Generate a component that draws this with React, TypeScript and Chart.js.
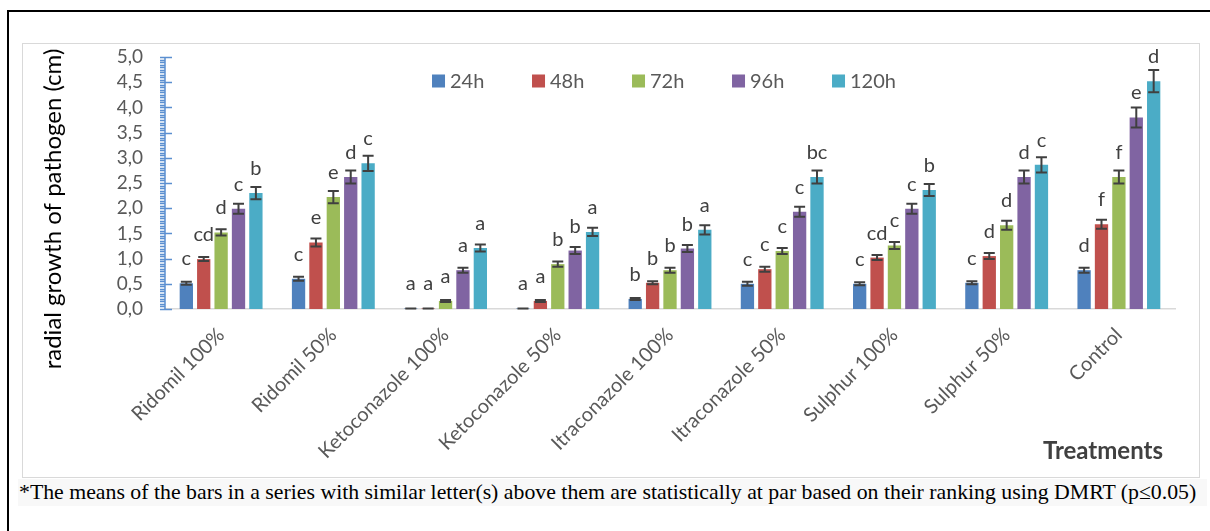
import React, { useEffect, useRef } from "react";
import { Chart, registerables } from "chart.js";

Chart.register(...registerables);

const categories = [
  "Ridomil 100%",
  "Ridomil 50%",
  "Ketoconazole 100%",
  "Ketoconazole 50%",
  "Itraconazole 100%",
  "Itraconazole 50%",
  "Sulphur 100%",
  "Sulphur 50%",
  "Control",
];

const seriesNames = ["24h", "48h", "72h", "96h", "120h"];
const seriesColors = ["#4F81BD", "#C0504D", "#9BBB59", "#8064A2", "#4BACC6"];

const v24 = [0.51, 0.6, 0.01, 0.01, 0.2, 0.5, 0.5, 0.52, 0.77];
const v48 = [0.99, 1.32, 0.01, 0.16, 0.52, 0.79, 1.02, 1.05, 1.68];
const v72 = [1.52, 2.22, 0.16, 0.89, 0.77, 1.15, 1.26, 1.66, 2.62];
const v96 = [1.99, 2.62, 0.77, 1.16, 1.2, 1.93, 1.99, 2.62, 3.8];
const v120 = [2.3, 2.89, 1.21, 1.53, 1.57, 2.62, 2.36, 2.86, 4.52];

const e24 = [0.03, 0.04, 0.0, 0.0, 0.02, 0.04, 0.03, 0.03, 0.05];
const e48 = [0.04, 0.08, 0.0, 0.02, 0.03, 0.05, 0.05, 0.06, 0.09];
const e72 = [0.06, 0.12, 0.02, 0.05, 0.05, 0.06, 0.07, 0.09, 0.13];
const e96 = [0.1, 0.13, 0.05, 0.07, 0.07, 0.1, 0.1, 0.13, 0.2];
const e120 = [0.12, 0.15, 0.07, 0.08, 0.09, 0.13, 0.12, 0.15, 0.22];

const l24 = ["c", "c", "a", "a", "b", "c", "c", "c", "d"];
const l48 = ["cd", "e", "a", "a", "b", "c", "cd", "d", "f"];
const l72 = ["d", "e", "a", "b", "b", "c", "c", "d", "f"];
const l96 = ["c", "d", "a", "b", "b", "c", "c", "d", "e"];
const l120 = ["b", "c", "a", "a", "a", "bc", "b", "c", "d"];

const yTicksMin = 0;
const yTicksMax = 5;
const yMajorStep = 0.5;
const yMinorStep = 0.05;

const yTitle = "radial growth of pathogen (cm)";
const xTitle = "Treatments";
const footnote =
  "*The means of the bars in a series with similar letter(s) above them are statistically at par based on their ranking using DMRT (p\u22640.05)";

const valuesList = [v24, v48, v72, v96, v120];
const errorsList = [e24, e48, e72, e96, e120];
const lettersList = [l24, l48, l72, l96, l120];

const FONT = "Lato, 'Open Sans', sans-serif";
const TEXT_GRAY = "#595959";
const DARK_GRAY = "#404040";
const AXIS_BLUE = "#5B8FD0";

const decoPlugin = {
  id: "deco",
  afterDatasetsDraw(chart: any) {
    const ctx = chart.ctx;
    const yScale = chart.scales.y;
    const area = chart.chartArea;
    // error bars and letters
    chart.data.datasets.forEach((ds: any, di: number) => {
      const meta = chart.getDatasetMeta(di);
      meta.data.forEach((el: any, j: number) => {
        const v = valuesList[di][j];
        const e = errorsList[di][j];
        const yT = yScale.getPixelForValue(v + e);
        const yB = yScale.getPixelForValue(Math.max(v - e, 0));
        ctx.save();
        ctx.strokeStyle = DARK_GRAY;
        ctx.lineWidth = 2;
        ctx.beginPath();
        ctx.moveTo(el.x, yT);
        ctx.lineTo(el.x, yB);
        ctx.moveTo(el.x - 5.5, yT);
        ctx.lineTo(el.x + 5.5, yT);
        ctx.moveTo(el.x - 5.5, yB);
        ctx.lineTo(el.x + 5.5, yB);
        ctx.stroke();
        ctx.fillStyle = DARK_GRAY;
        ctx.font = `20px ${FONT}`;
        ctx.textAlign = "center";
        ctx.textBaseline = "alphabetic";
        ctx.fillText(lettersList[di][j], el.x, el.y - 18);
        ctx.restore();
      });
    });

    // y-axis line with minor/major ticks
    ctx.save();
    ctx.strokeStyle = AXIS_BLUE;
    ctx.lineWidth = 1.5;
    const ax = area.left;
    ctx.beginPath();
    ctx.moveTo(ax, yScale.getPixelForValue(yTicksMax));
    ctx.lineTo(ax, yScale.getPixelForValue(yTicksMin));
    const nMinor = Math.round((yTicksMax - yTicksMin) / yMinorStep);
    const perMajor = Math.round(yMajorStep / yMinorStep);
    for (let k = 0; k <= nMinor; k++) {
      const py = Math.round(yScale.getPixelForValue(yTicksMin + k * yMinorStep)) + 0.5;
      if (k % perMajor === 0) {
        ctx.moveTo(ax - 5, py);
        ctx.lineTo(ax + 7, py);
      } else {
        ctx.moveTo(ax - 5, py);
        ctx.lineTo(ax, py);
      }
    }
    ctx.stroke();
    ctx.restore();

    // legend inside plot
    ctx.save();
    ctx.font = `20px ${FONT}`;
    ctx.textBaseline = "middle";
    ctx.textAlign = "left";
    const spacing = 100;
    const box = 13;
    const lastW = box + 5 + ctx.measureText(seriesNames[seriesNames.length - 1]).width;
    const total = spacing * (seriesNames.length - 1) + lastW;
    const cx = (area.left + area.right) / 2 - 6;
    const startX = cx - total / 2;
    const ly = area.top + 24;
    seriesNames.forEach((name, i) => {
      const x = startX + i * spacing;
      ctx.fillStyle = seriesColors[i];
      ctx.fillRect(x, ly - box / 2, box, box);
      ctx.fillStyle = TEXT_GRAY;
      ctx.fillText(name, x + box + 5, ly + 1);
    });
    ctx.restore();

    // y title
    ctx.save();
    ctx.font = `24px ${FONT}`;
    ctx.fillStyle = "#000000";
    ctx.textAlign = "center";
    ctx.textBaseline = "middle";
    ctx.translate(30, (area.top + area.bottom) / 2 + 26);
    ctx.rotate(-Math.PI / 2);
    ctx.fillText(yTitle, 0, 0);
    ctx.restore();

    // x title
    ctx.save();
    ctx.font = `bold 24px ${FONT}`;
    ctx.fillStyle = DARK_GRAY;
    ctx.textAlign = "right";
    ctx.textBaseline = "alphabetic";
    ctx.fillText(xTitle, area.right - 12, area.bottom + 150);
    ctx.restore();
  },
};

export default function App() {
  const canvasRef = useRef<HTMLCanvasElement | null>(null);

  useEffect(() => {
    if (!canvasRef.current) return;
    const chart = new Chart(canvasRef.current, {
      type: "bar",
      data: {
        labels: categories,
        datasets: seriesNames.map((name, i) => ({
          label: name,
          data: valuesList[i],
          backgroundColor: seriesColors[i],
          borderWidth: 0,
          categoryPercentage: 0.775,
          barPercentage: 0.765,
        })),
      },
      options: {
        animation: false,
        responsive: false,
        maintainAspectRatio: false,
        layout: { padding: { left: 0, right: 24, top: 13, bottom: 0 } },
        plugins: {
          legend: { display: false },
          tooltip: { enabled: false },
          title: { display: false },
        },
        scales: {
          x: {
            grid: { display: false, drawTicks: false },
            border: { display: true, color: "#D9D9D9", width: 1.5 },
            ticks: {
              color: TEXT_GRAY,
              font: { family: FONT, size: 20 },
              maxRotation: 45,
              minRotation: 45,
              padding: 14,
              autoSkip: false,
            },
            afterFit: (scale: any) => {
              scale.height = 168;
            },
          },
          y: {
            min: yTicksMin,
            max: yTicksMax,
            grid: { display: false, drawTicks: true, tickLength: 22 },
            border: { display: false },
            ticks: {
              stepSize: yMajorStep,
              autoSkip: false,
              color: TEXT_GRAY,
              font: { family: FONT, size: 19 },
              padding: 0,
              callback: (v: any) => Number(v).toFixed(1).replace(".", ","),
            },
            afterFit: (scale: any) => {
              scale.width = 142;
            },
          },
        },
      },
      plugins: [decoPlugin],
    });
    return () => chart.destroy();
  }, []);

  return (
    <div style={{ position: "absolute", left: 0, top: 0, width: 1210, height: 531, background: "#fff", overflow: "hidden" }}>
      <div
        style={{
          position: "absolute",
          left: 7,
          top: 10,
          width: 1220,
          height: 540,
          borderLeft: "2px solid #000",
          borderTop: "2px solid #000",
        }}
      />
      <div
        style={{
          position: "absolute",
          left: 22,
          top: 43,
          width: 1176,
          height: 433,
          border: "1px solid #D9D9D9",
        }}
      >
        <canvas ref={canvasRef} width={1176} height={433} style={{ display: "block", width: 1176, height: 433 }} />
      </div>
      <div
        style={{
          position: "absolute",
          left: 18,
          top: 479,
          width: 1188,
          height: 27,
          background: "#F8F8F8",
          fontFamily: "'Liberation Serif', 'Times New Roman', serif",
          fontSize: 21.8,
          lineHeight: "27px",
          color: "#000",
          whiteSpace: "nowrap",
          paddingLeft: 1,
        }}
      >
        {footnote}
      </div>
    </div>
  );
}
